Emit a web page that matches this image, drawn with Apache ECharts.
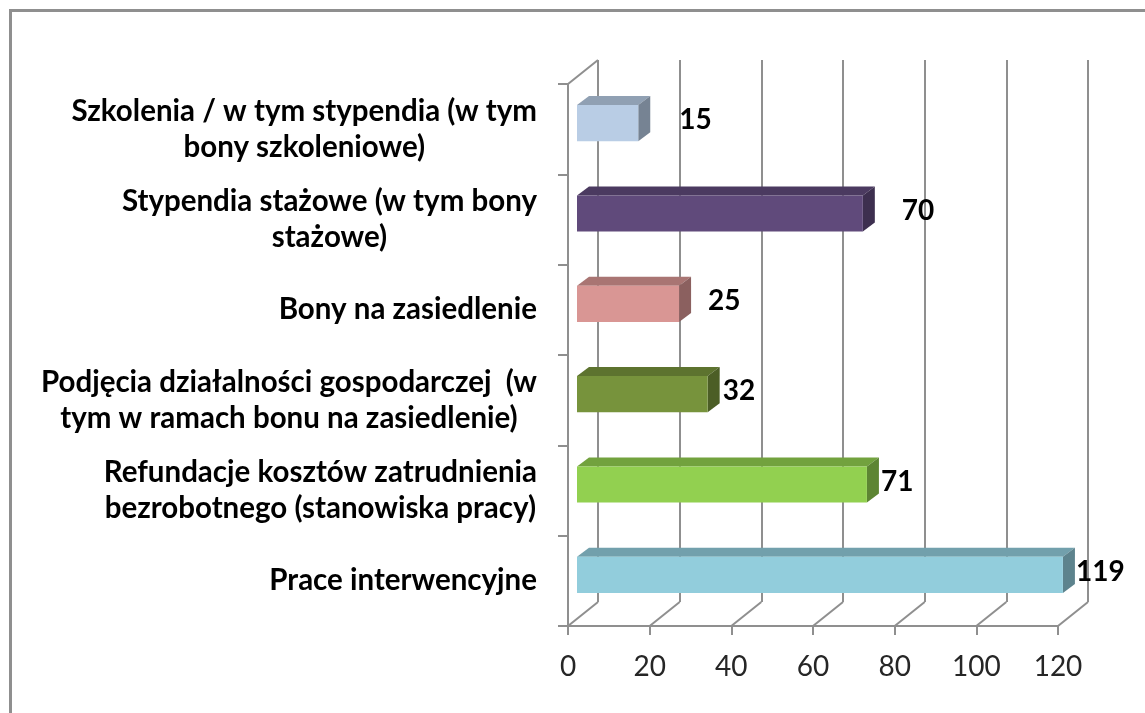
<!DOCTYPE html>
<html>
<head>
<meta charset="utf-8">
<script src="https://cdn.jsdelivr.net/npm/echarts@6/dist/echarts.min.js"></script>
<style>
  html, body { margin: 0; padding: 0; background: #fff; }
  #chart { width: 1145px; height: 713px; }
</style>
</head>
<body>
<div id="chart"></div>
<script>
// dane wykresu (od góry do dołu)
var categories = [
  'Szkolenia / w tym stypendia (w tym\nbony szkoleniowe)',
  'Stypendia stażowe (w tym bony\nstażowe)',
  'Bony na zasiedlenie',
  'Podjęcia działalności gospodarczej  (w\ntym w ramach bonu na zasiedlenie)',
  'Refundacje kosztów zatrudnienia\nbezrobotnego (stanowiska pracy)',
  'Prace interwencyjne'
];
var values = [15, 70, 25, 32, 71, 119];
var xTicks = [0, 20, 40, 60, 80, 100, 120];

// wyglad
var barColors = ['#B9CDE5', '#604A7B', '#D99694', '#77933C', '#92D050', '#92CDDC'];
var valueLabelGap = [29, 27, 17, 3, 2, 1];
var lineColor = '#8f8f8f';
// przesuniecie "glebokosci" sciany tylnej i slupkow
var wallDX = 30, wallDY = -24;
var barDX = 12, barDY = -9;

function darken(hex, f) {
  var n = parseInt(hex.slice(1), 16);
  var r = Math.round(((n >> 16) & 255) * f);
  var g = Math.round(((n >> 8) & 255) * f);
  var b = Math.round((n & 255) * f);
  return 'rgb(' + r + ',' + g + ',' + b + ')';
}

var myChart = echarts.init(document.getElementById('chart'));

function labelFormatter(value) {
  return value.split('\n').map(function (l) { return '{c|' + l + '}'; }).join('\n');
}

var option = {
  backgroundColor: '#fff',
  animation: false,
  graphic: [{
    type: 'rect',
    shape: { x: 10.5, y: 10.5, width: 1300, height: 900 },
    style: { fill: 'none', stroke: lineColor, lineWidth: 3 },
    silent: true
  }],
  grid: [
    // przednia plaszczyzna (osie)
    { left: 568, top: 84, width: 490, height: 542, outerBoundsMode: 'none' },
    // tylna sciana (linie siatki)
    { left: 568 + wallDX, top: 84 + wallDY, width: 490, height: 542, outerBoundsMode: 'none' },
    // slupki
    { left: 577, top: 78, width: 490, height: 542, outerBoundsMode: 'none' }
  ],
  xAxis: [{
    gridIndex: 0, type: 'value', min: 0, max: 120, interval: 20,
    axisLine: { show: true, lineStyle: { color: lineColor, width: 2 } },
    axisTick: { show: true, length: 9, lineStyle: { color: lineColor, width: 2 } },
    splitLine: { show: false },
    axisLabel: { margin: 27, fontFamily: 'Lato', fontSize: 28, color: '#262626' }
  }, {
    gridIndex: 1, type: 'value', min: 0, max: 120, interval: 20,
    axisLine: { show: false }, axisTick: { show: false }, axisLabel: { show: false },
    splitLine: { show: true, lineStyle: { color: lineColor, width: 2 } }
  }, {
    gridIndex: 2, type: 'value', min: 0, max: 120, show: false
  }],
  yAxis: [{
    gridIndex: 0, type: 'category', inverse: true, data: categories,
    axisLine: { show: true, lineStyle: { color: lineColor, width: 2 } },
    axisTick: { show: true, length: 10, lineStyle: { color: lineColor, width: 2 } },
    axisLabel: {
      margin: 31,
      formatter: labelFormatter,
      rich: {
        c: { align: 'center', fontFamily: 'Lato', fontWeight: 'bold', fontSize: 29.5, lineHeight: 36, color: '#000' }
      }
    }
  }, {
    gridIndex: 1, type: 'category', inverse: true, data: categories, show: false
  }, {
    gridIndex: 2, type: 'category', inverse: true, data: categories, show: false
  }],
  series: [{
    // podloga i lewa sciana
    type: 'custom',
    xAxisIndex: 0, yAxisIndex: 0,
    silent: true,
    data: xTicks.map(function (t) { return [t, categories.length - 1]; }),
    renderItem: function (params, api) {
      var p = api.coord([api.value(0), api.value(1)]);
      var band = api.size([0, 1])[1];
      var yb = p[1] + band / 2;
      var children = [{
        type: 'line',
        shape: { x1: p[0], y1: yb, x2: p[0] + wallDX, y2: yb + wallDY },
        style: { stroke: lineColor, lineWidth: 2 }
      }];
      if (params.dataIndex === 0) {
        var yt = api.coord([0, 0])[1] - band / 2;
        children.push({
          type: 'line',
          shape: { x1: p[0], y1: yt, x2: p[0] + wallDX, y2: yt + wallDY },
          style: { stroke: lineColor, lineWidth: 2 }
        });
      }
      return { type: 'group', children: children };
    }
  }, {
    // slupki 3D
    type: 'custom',
    xAxisIndex: 2, yAxisIndex: 2,
    data: values.map(function (v, i) { return [v, i]; }),
    renderItem: function (params, api) {
      var v = api.value(0), idx = api.value(1);
      var p0 = api.coord([0, idx]);
      var p1 = api.coord([v, idx]);
      var h = api.size([0, 1])[1] * 0.4;
      var x0 = p0[0], x1 = p1[0];
      var yt = p0[1] - h / 2, yb = p0[1] + h / 2;
      var c = barColors[idx];
      return {
        type: 'group',
        children: [{
          type: 'polygon',
          shape: { points: [[x0, yt], [x1, yt], [x1 + barDX, yt + barDY], [x0 + barDX, yt + barDY]] },
          style: { fill: darken(c, 0.78) }
        }, {
          type: 'polygon',
          shape: { points: [[x1, yt], [x1 + barDX, yt + barDY], [x1 + barDX, yb + barDY], [x1, yb]] },
          style: { fill: darken(c, 0.64) }
        }, {
          type: 'rect',
          shape: { x: x0, y: yt, width: x1 - x0, height: h },
          style: { fill: c }
        }, {
          type: 'text',
          style: {
            text: String(v), x: x1 + barDX + valueLabelGap[idx], y: p0[1] - 3,
            verticalAlign: 'middle', align: 'left',
            font: 'bold 28px Lato', fill: '#000'
          }
        }]
      };
    }
  }]
};

myChart.setOption(option);
</script>
</body>
</html>
